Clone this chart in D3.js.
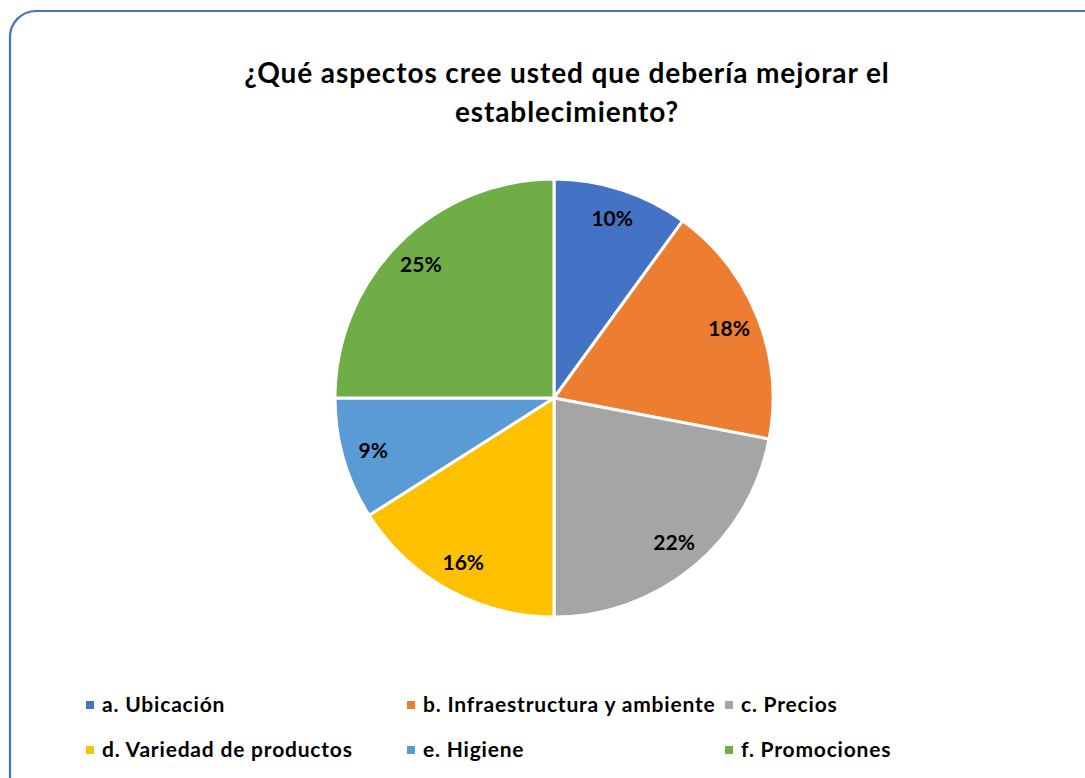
<!DOCTYPE html>
<html>
<head>
<meta charset="utf-8">
<script src="https://cdn.jsdelivr.net/npm/d3@7"></script>
<style>
  html, body { margin: 0; padding: 0; background: #fff; }
  svg { display: block; }
  text { font-family: Lato, "Open Sans", sans-serif; font-weight: bold; fill: #000; }
</style>
</head>
<body>
<svg id="chart" width="1085" height="778"></svg>
<script>
const categories = ["a. Ubicación", "b. Infraestructura y ambiente", "c. Precios",
                    "d. Variedad de productos", "e. Higiene", "f. Promociones"];
const values = [10, 18, 22, 16, 9, 25];
const colors = ["#4472C4", "#ED7D31", "#A5A5A5", "#FFC000", "#5B9BD5", "#70AD47"];
const titleLines = ["¿Qué aspectos cree usted que debería mejorar el", "establecimiento?"];

const svg = d3.select("#chart");
const W = 1085, H = 778;

// chart frame with rounded corners
svg.append("rect")
  .attr("x", 10).attr("y", 11)
  .attr("width", W + 20).attr("height", H + 20)
  .attr("rx", 26).attr("ry", 26)
  .attr("fill", "#fff")
  .attr("stroke", "#4472C4")
  .attr("stroke-width", 2.2);

// title
const title = svg.append("text")
  .attr("text-anchor", "middle")
  .style("font-size", "28px")
  .style("letter-spacing", "0.9px");
titleLines.forEach((t, i) => {
  title.append("tspan").attr("x", 567).attr("y", 83 + i * 39).text(t);
});

// pie
const cx = 554, cy = 398, R = 219;
const color = d3.scaleOrdinal().domain(categories).range(colors);
const pie = d3.pie().sort(null).value(d => d.v);
const data = categories.map((c, i) => ({ c, v: values[i] }));
const arcs = pie(data);
const arc = d3.arc().innerRadius(0).outerRadius(R);
const labelArc = d3.arc().innerRadius(R * 0.86).outerRadius(R * 0.86);
const total = d3.sum(values);

const g = svg.append("g").attr("transform", `translate(${cx},${cy})`);
g.selectAll("path.slice")
  .data(arcs)
  .join("path")
  .attr("class", "slice")
  .attr("d", arc)
  .attr("fill", d => color(d.data.c))
  .attr("stroke", "#fff")
  .attr("stroke-width", 3)
  .attr("stroke-linejoin", "round");

g.selectAll("text.lbl")
  .data(arcs)
  .join("text")
  .attr("class", "lbl")
  .attr("transform", d => {
    const [x, y] = labelArc.centroid(d);
    return `translate(${x},${y})`;
  })
  .attr("text-anchor", "middle")
  .attr("dy", "0.35em")
  .style("font-size", "21px")
  .text(d => d3.format(".0%")(d.data.v / total));

// legend: three columns, two rows
const colX = [86, 407, 725];
const rowY = [705, 750];
const leg = svg.append("g");
data.forEach((d, i) => {
  const x = colX[i % 3], y = rowY[Math.floor(i / 3)];
  leg.append("rect")
    .attr("x", x).attr("y", y - 4)
    .attr("width", 8).attr("height", 8)
    .attr("fill", color(d.c));
  leg.append("text")
    .attr("x", x + 16).attr("y", y)
    .attr("dy", "0.35em")
    .style("font-size", "21px")
    .style("letter-spacing", "0.8px")
    .text(d.c);
});
</script>
</body>
</html>
